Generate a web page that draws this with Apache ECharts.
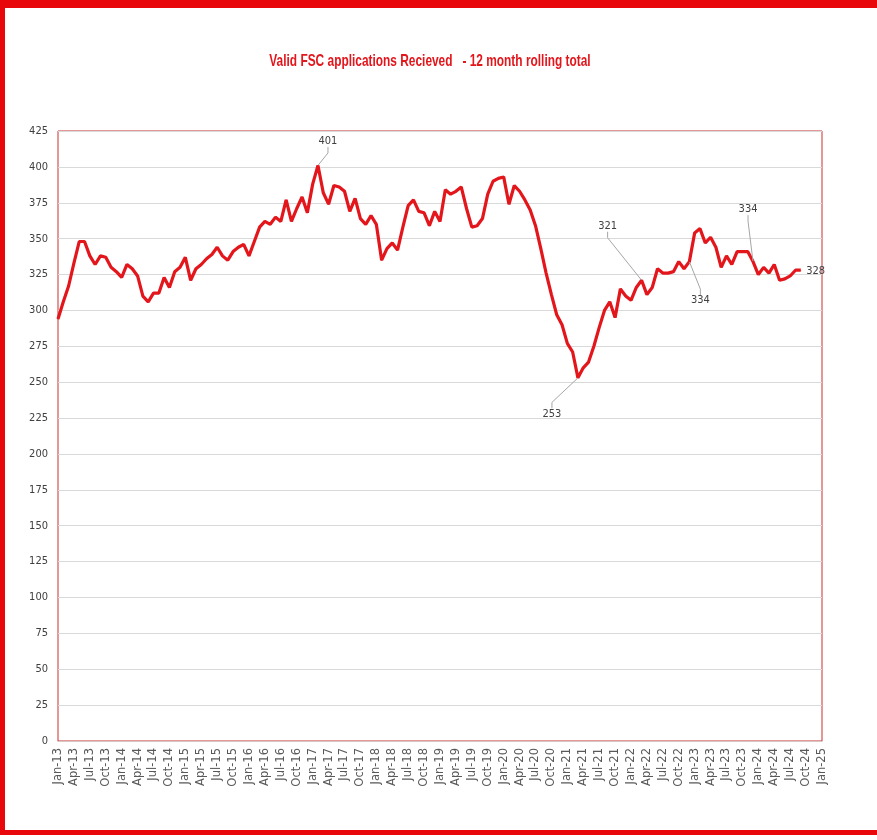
<!DOCTYPE html>
<html>
<head>
<meta charset="utf-8">
<script src="https://cdn.jsdelivr.net/npm/echarts@6/dist/echarts.min.js"></script>
<style>
  html, body { margin: 0; padding: 0; background: #fff; }
  #chart { position: absolute; left: 0; top: 0; width: 877px; height: 840px; }
  #frame { position: absolute; left: 0; top: 0; width: 872px; height: 822px;
           border-top: 8px solid #e8070b; border-left: 5px solid #e8070b; border-bottom: 5px solid #e8070b;
           pointer-events: none; }
</style>
</head>
<body>
<div id="chart"></div>
<div id="frame"></div>
<script>
const titleText = 'Valid FSC applications Recieved   - 12 month rolling total';

const monthNames = ['Jan','Feb','Mar','Apr','May','Jun','Jul','Aug','Sep','Oct','Nov','Dec'];
const categories = [];
for (let y = 13; y <= 24; y++) for (const m of monthNames) categories.push(m + '-' + y);
categories.push('Jan-25');

const values = [
  // 2013
  294, 306, 317, 333, 348, 348, 338, 332, 338, 337, 330, 327,
  // 2014
  323, 332, 329, 324, 310, 306, 312, 312, 323, 316, 327, 330,
  // 2015
  337, 321, 329, 332, 336, 339, 344, 338, 335, 341, 344, 346,
  // 2016
  338, 348, 358, 362, 360, 365, 362, 377, 362, 371, 379, 368,
  // 2017
  388, 401, 382, 374, 387, 386, 383, 369, 378, 364, 360, 366,
  // 2018
  360, 335, 343, 347, 342, 358, 373, 377, 369, 368, 359, 369,
  // 2019
  362, 384, 381, 383, 386, 371, 358, 359, 364, 381, 390, 392,
  // 2020
  393, 374, 387, 383, 377, 370, 359, 343, 326, 311, 297, 290,
  // 2021
  277, 271, 253, 260, 264, 275, 288, 300, 306, 295, 315, 310,
  // 2022
  307, 316, 321, 311, 316, 329, 326, 326, 327, 334, 329, 334,
  // 2023
  354, 357, 347, 351, 344, 330, 338, 332, 341, 341, 341, 334,
  // 2024
  325, 330, 326, 332, 321, 322, 324, 328, 328
];

// points carrying a data label
const labelledMonths = ['Feb-17', 'Mar-21', 'Mar-22', 'Dec-22', 'Dec-23', 'Sep-24'];

// label placement (style only)
const labelPlacement = {
  'Feb-17': { position: 'top', dx: 10, dy: -13, line: true },
  'Mar-21': { position: 'bottom', dx: -26, dy: 25, line: true },
  'Mar-22': { position: 'top', dx: -34, dy: -43, line: true },
  'Dec-22': { position: 'bottom', dx: 11, dy: 28, line: true },
  'Dec-23': { position: 'top', dx: -5, dy: -41, line: true },
  'Sep-24': { position: 'right', dx: 0, dy: 1, line: false }
};

const seriesData = values.map((v, i) => {
  const cat = categories[i];
  if (labelledMonths.indexOf(cat) >= 0) {
    const p = labelPlacement[cat];
    return {
      value: v,
      label: { show: true, position: p.position },
      labelLine: { show: p.line }
    };
  }
  return v;
});

const chart = echarts.init(document.getElementById('chart'), null, { renderer: 'canvas' });
const narrow = "'Liberation Sans Narrow', 'DejaVu Sans Condensed', 'Liberation Sans', sans-serif";

chart.setOption({
  animation: false,
  backgroundColor: '#ffffff',
  graphic: [{
    type: 'text',
    x: 430,
    y: 61,
    scaleX: 0.7,
    style: {
      text: titleText,
      textAlign: 'center',
      textVerticalAlign: 'middle',
      fill: '#e3161c',
      font: "bold 17px 'Liberation Sans', Arial, sans-serif"
    }
  }],
  grid: {
    left: 58, right: 55, top: 131, bottom: 99,
    show: true, borderColor: '#c9302c', borderWidth: 1, backgroundColor: 'transparent'
  },
  xAxis: {
    type: 'category',
    data: categories,
    boundaryGap: false,
    axisLine: { show: true, lineStyle: { color: '#d8c4c4', width: 1 } },
    axisTick: { show: false },
    splitLine: { show: false },
    axisLabel: {
      interval: (index) => index % 3 === 0,
      rotate: 90,
      margin: 7,
      color: '#595959',
      fontSize: 11.5,
      fontFamily: "'DejaVu Sans', Verdana, sans-serif"
    }
  },
  yAxis: {
    type: 'value',
    min: 0, max: 425, interval: 25,
    axisLine: { show: false },
    axisTick: { show: false },
    splitLine: { show: true, lineStyle: { color: '#d9d9d9', width: 1 } },
    axisLabel: { color: '#404040', fontSize: 11, fontFamily: narrow, margin: 10 }
  },
  series: [{
    type: 'line',
    data: seriesData,
    showSymbol: true,
    symbol: 'circle',
    symbolSize: 1,
    itemStyle: { color: '#e3161c' },
    lineStyle: { color: '#e3161c', width: 3.2 },
    label: { show: false, color: '#404040', fontSize: 11, fontFamily: narrow, distance: 5 },
    labelLine: { show: false, lineStyle: { color: '#a6a6a6', width: 1 }, length2: 6 },
    labelLayout: function (params) {
      const cat = categories[params.dataIndex];
      const p = labelPlacement[cat];
      if (!p) return {};
      return { dx: p.dx, dy: p.dy };
    },
    z: 3
  }]
});
</script>
</body>
</html>
